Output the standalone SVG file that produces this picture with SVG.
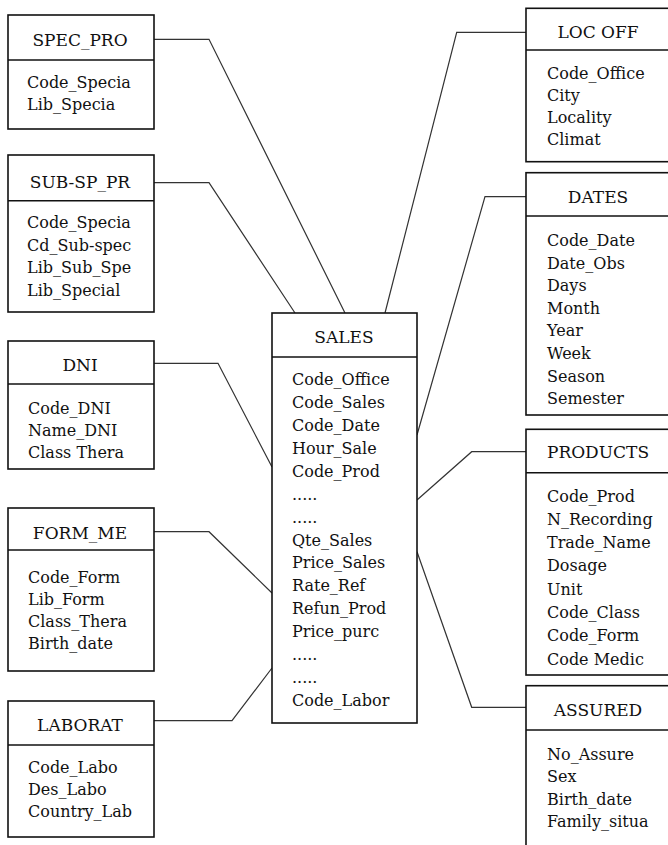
<svg xmlns="http://www.w3.org/2000/svg" width="668" height="845" viewBox="0 0 668 845">
  <style>
    .box { fill: #ffffff; stroke: #111111; stroke-width: 1.6; }
    .div { stroke: #111111; stroke-width: 1.6; }
    .link { fill: none; stroke: #333333; stroke-width: 1.2; }
    .hd { font-family: "DejaVu Serif", "Liberation Serif", serif; font-size: 17px; fill: #111111; text-anchor: middle; }
    .at { font-family: "DejaVu Serif", "Liberation Serif", serif; font-size: 16px; fill: #111111; }
  </style>
  <rect x="0" y="0" width="668" height="845" fill="#ffffff"/>

  <!-- relationship lines from the dimension tables to the fact table -->
  <g id="connectors">
    <polyline class="link" points="154,39.3 209,39.3 345,313"/>
    <polyline class="link" points="154,182.7 209,182.7 295,313"/>
    <polyline class="link" points="154,363.3 218,363.3 272,467"/>
    <polyline class="link" points="154,531.7 209,531.7 272,593"/>
    <polyline class="link" points="154,720.7 232,720.7 272,668"/>
    <polyline class="link" points="526,32.3 456.7,32.3 385,313"/>
    <polyline class="link" points="526,196.7 485,196.7 417,435"/>
    <polyline class="link" points="526,451.7 471.7,451.7 417,500"/>
    <polyline class="link" points="526,707.3 471.7,707.3 417,551.7"/>
  </g>

  <!-- left column -->
  <g id="spec_pro">
    <rect class="box" x="8" y="15" width="146" height="114"/>
    <line class="div" x1="8" y1="60" x2="154" y2="60"/>
    <text class="hd" x="80" y="46">SPEC_PRO</text>
    <text class="at" x="27" y="87.5">Code_Specia</text>
    <text class="at" x="27" y="110">Lib_Specia</text>
  </g>

  <g id="sub_sp_pr">
    <rect class="box" x="8" y="155" width="146" height="157"/>
    <line class="div" x1="8" y1="200.7" x2="154" y2="200.7"/>
    <text class="hd" x="80" y="188">SUB-SP_PR</text>
    <text class="at" x="27" y="228.3">Code_Specia</text>
    <text class="at" x="27" y="250.8">Cd_Sub-spec</text>
    <text class="at" x="27" y="273.3">Lib_Sub_Spe</text>
    <text class="at" x="27" y="295.8">Lib_Special</text>
  </g>

  <g id="dni">
    <rect class="box" x="8" y="341" width="146" height="128"/>
    <line class="div" x1="8" y1="384" x2="154" y2="384"/>
    <text class="hd" x="80" y="371">DNI</text>
    <text class="at" x="28" y="414">Code_DNI</text>
    <text class="at" x="28" y="436">Name_DNI</text>
    <text class="at" x="28" y="458">Class Thera</text>
  </g>

  <g id="form_me">
    <rect class="box" x="8" y="508" width="146" height="163"/>
    <line class="div" x1="8" y1="550" x2="154" y2="550"/>
    <text class="hd" x="80" y="539">FORM_ME</text>
    <text class="at" x="28" y="583">Code_Form</text>
    <text class="at" x="28" y="605">Lib_Form</text>
    <text class="at" x="28" y="627">Class_Thera</text>
    <text class="at" x="28" y="649">Birth_date</text>
  </g>

  <g id="laborat">
    <rect class="box" x="8" y="701" width="146" height="136"/>
    <line class="div" x1="8" y1="745" x2="154" y2="745"/>
    <text class="hd" x="80" y="731">LABORAT</text>
    <text class="at" x="28" y="773">Code_Labo</text>
    <text class="at" x="28" y="795">Des_Labo</text>
    <text class="at" x="28" y="817">Country_Lab</text>
  </g>

  <!-- fact table -->
  <g id="sales">
    <rect class="box" x="272" y="313" width="145" height="410"/>
    <line class="div" x1="272" y1="357" x2="417" y2="357"/>
    <text class="hd" x="344" y="343">SALES</text>
    <text class="at" x="292" y="385">Code_Office</text>
    <text class="at" x="292" y="407.9">Code_Sales</text>
    <text class="at" x="292" y="430.9">Code_Date</text>
    <text class="at" x="292" y="453.8">Hour_Sale</text>
    <text class="at" x="292" y="476.7">Code_Prod</text>
    <text class="at" x="292" y="499.6">.....</text>
    <text class="at" x="292" y="522.6">.....</text>
    <text class="at" x="292" y="545.5">Qte_Sales</text>
    <text class="at" x="292" y="568.4">Price_Sales</text>
    <text class="at" x="292" y="591.4">Rate_Ref</text>
    <text class="at" x="292" y="614.3">Refun_Prod</text>
    <text class="at" x="292" y="637.2">Price_purc</text>
    <text class="at" x="292" y="660.1">.....</text>
    <text class="at" x="292" y="683.1">.....</text>
    <text class="at" x="292" y="706">Code_Labor</text>
  </g>

  <!-- right column -->
  <g id="loc_off">
    <rect class="box" x="526" y="8.3" width="144" height="153.4"/>
    <line class="div" x1="526" y1="50" x2="670" y2="50"/>
    <text class="hd" x="598" y="38">LOC OFF</text>
    <text class="at" x="547" y="79.3">Code_Office</text>
    <text class="at" x="547" y="101.3">City</text>
    <text class="at" x="547" y="123.3">Locality</text>
    <text class="at" x="547" y="145.3">Climat</text>
  </g>

  <g id="dates">
    <rect class="box" x="526" y="172.7" width="144" height="242.3"/>
    <line class="div" x1="526" y1="216" x2="670" y2="216"/>
    <text class="hd" x="598" y="203">DATES</text>
    <text class="at" x="547" y="246">Code_Date</text>
    <text class="at" x="547" y="268.6">Date_Obs</text>
    <text class="at" x="547" y="291.2">Days</text>
    <text class="at" x="547" y="313.8">Month</text>
    <text class="at" x="547" y="336.4">Year</text>
    <text class="at" x="547" y="359">Week</text>
    <text class="at" x="547" y="381.6">Season</text>
    <text class="at" x="547" y="404.2">Semester</text>
  </g>

  <g id="products">
    <rect class="box" x="526" y="429.3" width="144" height="245.7"/>
    <line class="div" x1="526" y1="472.7" x2="670" y2="472.7"/>
    <text class="hd" x="598" y="458">PRODUCTS</text>
    <text class="at" x="547" y="501.5">Code_Prod</text>
    <text class="at" x="547" y="524.8">N_Recording</text>
    <text class="at" x="547" y="548.1">Trade_Name</text>
    <text class="at" x="547" y="571.4">Dosage</text>
    <text class="at" x="547" y="594.7">Unit</text>
    <text class="at" x="547" y="618">Code_Class</text>
    <text class="at" x="547" y="641.3">Code_Form</text>
    <text class="at" x="547" y="664.6">Code Medic</text>
  </g>

  <g id="assured">
    <rect class="box" x="526" y="685.7" width="144" height="180"/>
    <line class="div" x1="526" y1="730" x2="670" y2="730"/>
    <text class="hd" x="598" y="716">ASSURED</text>
    <text class="at" x="547" y="760">No_Assure</text>
    <text class="at" x="547" y="782.3">Sex</text>
    <text class="at" x="547" y="804.6">Birth_date</text>
    <text class="at" x="547" y="826.9">Family_situa</text>
  </g>
</svg>
